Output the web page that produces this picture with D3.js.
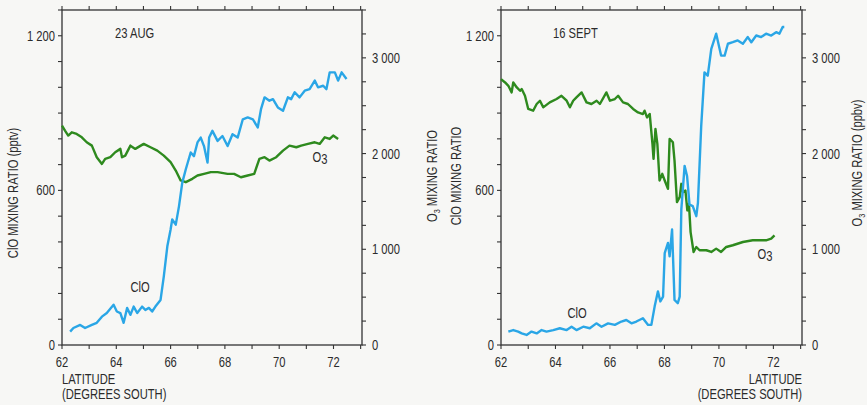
<!DOCTYPE html>
<html>
<head>
<meta charset="utf-8">
<script src="https://cdn.jsdelivr.net/npm/d3@7"></script>
<style>
  html, body { margin: 0; padding: 0; background: #f7f7f5; }
  svg { display: block; }
  text { font-family: "Liberation Sans", Arial, sans-serif; fill: #2b2b2b; }
</style>
</head>
<body>
<svg id="chart" width="867" height="405"></svg>
<script>
// ---- 23 August flight ----
const augClOLat = [62.3,62.42,62.67,62.85,63.1,63.28,63.47,63.65,63.9,64.02,64.15,64.27,64.4,64.52,64.64,64.77,64.95,65.07,65.2,65.32,65.44,65.63,65.75,65.88,66.0,66.06,66.19,66.31,66.43,66.56,66.74,66.86,66.99,67.11,67.23,67.36,67.42,67.54,67.73,67.91,68.1,68.28,68.47,68.66,68.84,69.03,69.21,69.33,69.46,69.64,69.77,69.95,70.14,70.32,70.44,70.57,70.75,70.94,71.12,71.31,71.43,71.62,71.74,71.86,72.05,72.17,72.3,72.48];
const augClO = [52,66,78,66,78,86,110,124,156,130,124,86,144,117,149,124,149,136,144,130,149,175,266,383,448,487,467,539,630,682,747,733,786,805,772,708,805,831,792,811,772,818,805,876,883,876,844,915,961,948,954,922,909,961,954,981,961,987,993,1026,1000,1006,993,1058,1058,1026,1058,1032];
const augO3Lat = [62.0,62.11,62.23,62.36,62.54,62.73,62.91,63.1,63.28,63.47,63.59,63.78,63.96,64.15,64.21,64.33,64.52,64.7,65.01,65.26,65.51,65.75,66.0,66.19,66.37,66.56,66.8,66.99,67.23,67.48,67.73,68.1,68.34,68.59,68.84,69.08,69.27,69.46,69.64,69.89,70.14,70.38,70.63,70.81,71.06,71.31,71.49,71.68,71.86,71.99,72.17];
const augO3 = [2292,2240,2188,2222,2205,2170,2118,2083,1962,1892,1945,1962,2014,2049,1962,1979,2083,2049,2101,2066,2031,1979,1910,1823,1719,1701,1736,1771,1788,1806,1806,1788,1788,1753,1771,1788,1945,1962,1927,1962,2031,2083,2066,2083,2101,2118,2101,2170,2153,2188,2153];

// ---- 16 September flight ----
const sepClOLat = [62.27,62.45,62.63,62.76,62.94,63.12,63.31,63.49,63.67,63.92,64.16,64.41,64.59,64.77,65.02,65.26,65.5,65.69,65.93,66.18,66.42,66.6,66.79,66.97,67.21,67.4,67.52,67.64,67.76,67.85,67.95,68.01,68.13,68.19,68.28,68.37,68.49,68.56,68.62,68.74,68.83,68.92,69.04,69.17,69.23,69.35,69.47,69.59,69.72,69.9,70.08,70.21,70.33,70.51,70.69,70.88,71.06,71.19,71.37,71.55,71.73,71.92,72.1,72.22,72.34,72.4];
const sepClO = [52,58,52,45,39,52,45,58,52,58,65,58,71,58,71,65,84,71,84,78,91,97,84,91,104,78,78,149,208,169,188,357,396,344,448,175,162,188,526,695,656,545,539,500,552,850,1058,1045,1149,1208,1123,1123,1169,1175,1182,1169,1195,1175,1201,1195,1208,1201,1214,1208,1234,1234];
const sepO3Lat = [62.0,62.15,62.27,62.39,62.45,62.58,62.7,62.76,62.88,63.0,63.18,63.31,63.43,63.55,63.79,64.04,64.22,64.41,64.53,64.65,64.77,64.96,65.14,65.32,65.51,65.63,65.87,66.0,66.18,66.3,66.48,66.66,66.85,67.03,67.21,67.27,67.36,67.46,67.56,67.6,67.67,67.74,67.82,67.92,68.01,68.13,68.19,68.31,68.37,68.46,68.56,68.62,68.68,68.77,68.84,68.9,68.96,69.07,69.17,69.29,69.54,69.72,69.9,70.08,70.27,70.51,70.88,71.24,71.49,71.73,71.92,72.04];
const sepO3 = [2778,2743,2708,2639,2743,2691,2656,2674,2604,2466,2448,2518,2552,2483,2535,2570,2604,2552,2483,2552,2587,2639,2535,2518,2552,2518,2639,2552,2570,2604,2535,2518,2466,2430,2413,2448,2378,2413,2101,1945,2257,2101,1719,1788,1719,1632,2153,2118,1927,1493,1545,1684,1597,1615,1406,1476,1180,972,1024,990,990,972,1007,972,1024,1042,1076,1094,1094,1094,1111,1146];

// ---- axis ticks ----
const latTicks = d3.range(62, 74, 1);
const latLabels = [62, 64, 66, 68, 70, 72];
const clOTicks = d3.range(0, 1301, 100);
const clOLabels = [0, 600, 1200];
const o3Ticks = d3.range(0, 3501, 250);
const o3Labels = [0, 1000, 2000, 3000];

const BLUE = "#2aa6e6";
const GREEN = "#2e8a1e";
const INK = "#333";
const FS = 14;       // type size
const NARROW = 0.8;  // horizontal squeeze for a condensed face

const fmt = d3.formatLocale({decimal: ".", thousands: " ", grouping: [3], currency: ["", ""]}).format(",d");

const svg = d3.select("#chart");

// condensed text placed at (x, y), optionally rotated
function label(parent, x, y, anchor, rot) {
  const r = rot ? ` rotate(${rot})` : "";
  return parent.append("text")
    .attr("transform", `translate(${x},${y})${r} scale(${NARROW},1)`)
    .attr("text-anchor", anchor)
    .attr("font-size", FS);
}

const panels = [
  {x0: 62, x1: 362, title: "23 AUG", titleX: 115,
   clOLat: augClOLat, clO: augClO, o3Lat: augO3Lat, o3: augO3,
   clOLabel: [140, 287], o3Label: [320, 158], xLabelAnchor: "start", xLabelX: 62},
  {x0: 501, x1: 802, title: "16 SEPT", titleX: 553,
   clOLat: sepClOLat, clO: sepClO, o3Lat: sepO3Lat, o3: sepO3,
   clOLabel: [577, 313], o3Label: [765, 255], xLabelAnchor: "end", xLabelX: 802}
];

const yTop = 10, yBot = 345;
const yClO = d3.scaleLinear([0, 1300], [yBot, yTop]);
const yO3 = d3.scaleLinear([0, 3500], [yBot, yTop]);

panels.forEach(p => {
  const x = d3.scaleLinear([62, 73.05], [p.x0, p.x1]);
  const g = svg.append("g");

  // frame
  g.append("rect").attr("x", p.x0).attr("y", yTop)
    .attr("width", p.x1 - p.x0).attr("height", yBot - yTop)
    .attr("fill", "none").attr("stroke", INK).attr("stroke-width", 1.3);

  const tickLen = 4;
  // latitude ticks, bottom and top
  latTicks.forEach(t => {
    const xx = x(t);
    g.append("line").attr("x1", xx).attr("x2", xx).attr("y1", yBot).attr("y2", yBot + tickLen).attr("stroke", INK).attr("stroke-width", 1.1);
    g.append("line").attr("x1", xx).attr("x2", xx).attr("y1", yTop).attr("y2", yTop - tickLen).attr("stroke", INK).attr("stroke-width", 1.1);
  });
  latLabels.forEach(t => label(g, x(t), 367, "middle").text(t));

  // ClO axis on the left
  clOTicks.forEach(t => {
    g.append("line").attr("x1", p.x0 - tickLen).attr("x2", p.x0).attr("y1", yClO(t)).attr("y2", yClO(t)).attr("stroke", INK).attr("stroke-width", 1.1);
  });
  clOLabels.forEach(t => label(g, p.x0 - 7, yClO(t) + 5, "end").text(fmt(t)));

  // O3 axis on the right
  o3Ticks.forEach(t => {
    g.append("line").attr("x1", p.x1).attr("x2", p.x1 + tickLen).attr("y1", yO3(t)).attr("y2", yO3(t)).attr("stroke", INK).attr("stroke-width", 1.1);
  });
  o3Labels.forEach(t => label(g, p.x1 + 10, yO3(t) + 5, "start").text(fmt(t)));

  // series
  const clOLine = d3.line().x((d, i) => x(p.clOLat[i])).y(d => yClO(d));
  const o3Line = d3.line().x((d, i) => x(p.o3Lat[i])).y(d => yO3(d));
  g.append("path").datum(p.o3).attr("d", o3Line)
    .attr("fill", "none").attr("stroke", GREEN).attr("stroke-width", 2.4).attr("stroke-linejoin", "round");
  g.append("path").datum(p.clO).attr("d", clOLine)
    .attr("fill", "none").attr("stroke", BLUE).attr("stroke-width", 2.4).attr("stroke-linejoin", "round");

  // annotations
  label(g, p.titleX, 38, "start").text(p.title);
  label(g, p.clOLabel[0], p.clOLabel[1] + 5, "middle").text("ClO");
  const o3t = label(g, p.o3Label[0], p.o3Label[1] + 4, "middle");
  o3t.append("tspan").text("O");
  o3t.append("tspan").attr("dy", 2).text("3");

  // latitude axis title
  label(g, p.xLabelX, 384, p.xLabelAnchor).text("LATITUDE");
  label(g, p.xLabelX, 399, p.xLabelAnchor).text("(DEGREES SOUTH)");
});

// vertical axis titles (baseline x, centre y)
function vTitle(bx, cy, parts) {
  const t = label(svg, bx, cy, "middle", -90);
  parts.forEach(([s, sub], i) => {
    const ts = t.append("tspan").text(s);
    if (sub) ts.attr("font-size", 9).attr("dy", 3);
    else if (i > 0) ts.attr("dy", -3);
  });
}
vTitle(18, 193, [["ClO MIXING RATIO (pptv)", false]]);
vTitle(437, 176, [["O", false], ["3", true], [" MIXING RATIO", false]]);
vTitle(461, 176, [["ClO MIXING RATIO", false]]);
vTitle(862, 163, [["O", false], ["3", true], [" MIXING RATIO (ppbv)", false]]);
</script>
</body>
</html>
